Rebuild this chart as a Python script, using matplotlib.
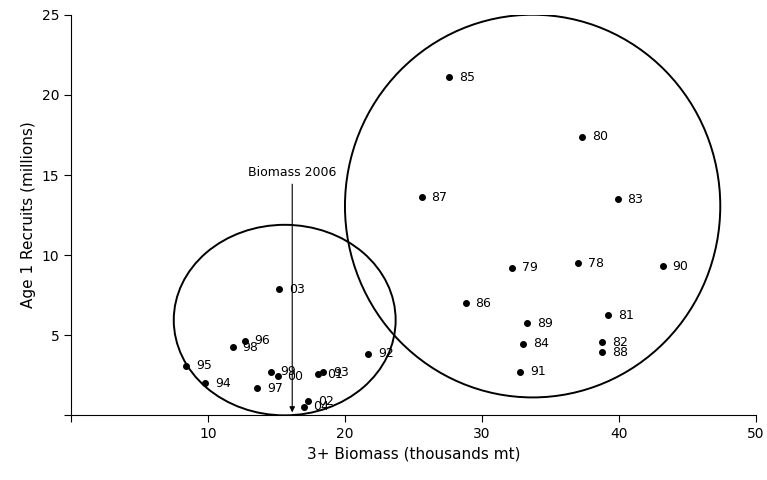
import matplotlib
matplotlib.use('Agg')
import matplotlib.pyplot as plt
from matplotlib.patches import Ellipse

# years and stock-recruit values
years = ['78', '79', '80', '81', '82', '83', '84', '85', '86', '87', '88', '89', '90', '91',
         '92', '93', '94', '95', '96', '97', '98', '99', '00', '01', '02', '03', '04']
biomass = [37.0, 32.2, 37.3, 39.2, 38.8, 39.9, 33.0, 27.6, 28.8, 25.6, 38.8, 33.3, 43.2, 32.8,
           21.7, 18.4, 9.8, 8.4, 12.7, 13.6, 11.8, 14.6, 15.1, 18.0, 17.3, 15.2, 17.0]
recruits = [9.5, 9.2, 17.4, 6.25, 4.56, 13.5, 4.45, 21.1, 7.0, 13.6, 3.94, 5.75, 9.3, 2.7,
            3.85, 2.69, 2.0, 3.08, 4.64, 1.69, 4.25, 2.7, 2.44, 2.56, 0.875, 7.86, 0.54]

biomass_2006 = 16.15

fig = plt.figure(figsize=(7.67, 4.8), dpi=100)
ax = fig.add_axes([0.0926, 0.135, 0.8929, 0.834])

ax.plot(biomass, recruits, 'o', color='black', markersize=4)
for yr, x, y in zip(years, biomass, recruits):
    ax.annotate(yr, (x, y), xytext=(7, 0), textcoords='offset points',
                va='center', ha='left', fontsize=9)

# groupings
ax.add_patch(Ellipse((33.7, 13.06), 27.4, 23.9, fill=False, lw=1.4, color='black'))
ax.add_patch(Ellipse((15.6, 5.94), 16.2, 11.9, fill=False, lw=1.4, color='black'))

ax.annotate('', xy=(biomass_2006, 0), xytext=(biomass_2006, 14.6),
            arrowprops=dict(arrowstyle='-|>', color='black', lw=0.8, mutation_scale=8))
ax.text(biomass_2006, 14.75, 'Biomass 2006', ha='center', va='bottom', fontsize=9)

ax.set_xlim(0, 50)
ax.set_ylim(0, 25)
ax.set_xticks([0, 10, 20, 30, 40, 50])
ax.set_xticklabels(['', '10', '20', '30', '40', '50'])
ax.set_yticks([0, 5, 10, 15, 20, 25])
ax.set_yticklabels(['', '5', '10', '15', '20', '25'])
ax.tick_params(labelsize=10, direction='out', length=5)
ax.spines['top'].set_visible(False)
ax.spines['right'].set_visible(False)
ax.set_xlabel('3+ Biomass (thousands mt)', fontsize=11)
ax.set_ylabel('Age 1 Recruits (millions)', fontsize=11)

fig.savefig('out.png', dpi=100)
